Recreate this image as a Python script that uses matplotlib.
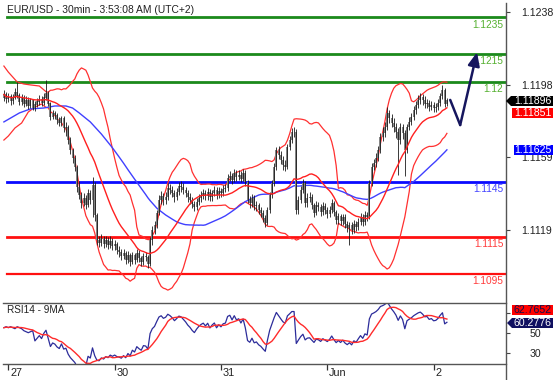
import matplotlib
matplotlib.use('Agg')
import matplotlib.pyplot as plt
from matplotlib.patches import Polygon
from matplotlib.lines import Line2D
import matplotlib.transforms as mtransforms
import numpy as np
import pandas as pd

plt.rcParams['font.family'] = ['Liberation Sans', 'DejaVu Sans']

# ---------------- data ----------------
close = [1.11930, 1.11905, 1.11920, 1.11895, 1.11915, 1.11940, 1.11925, 1.11890, 1.11910, 1.11880, 1.11900, 1.11870, 1.11895, 1.11860, 1.11875, 1.11890, 1.11905, 1.11885, 1.11915, 1.11935, 1.11880,
         1.11807, 1.11829, 1.11818, 1.11790, 1.11774, 1.11800, 1.11747, 1.11752, 1.11681, 1.11627, 1.11583, 1.11534, 1.11425, 1.11381, 1.11337, 1.11365, 1.11327, 1.11392, 1.11354, 1.11436,
         1.11272, 1.11135, 1.11119, 1.11146, 1.11113, 1.11135, 1.11108, 1.11130, 1.11103, 1.11113, 1.11081, 1.11070, 1.11048, 1.11065, 1.11026, 1.11054, 1.11015, 1.11054, 1.11026, 1.11065, 1.11037, 1.11015, 1.11048, 1.11043, 1.11004,
         1.11135, 1.11190, 1.11217, 1.11283, 1.11354, 1.11376, 1.11354, 1.11370, 1.11419, 1.11408, 1.11392, 1.11370, 1.11397, 1.11430, 1.11425, 1.11408, 1.11392, 1.11370, 1.11354, 1.11332, 1.11316, 1.11343, 1.11365, 1.11381, 1.11392, 1.11376, 1.11397, 1.11370, 1.11392, 1.11408, 1.11381, 1.11403, 1.11392, 1.11414, 1.11419,
         1.11474, 1.11485, 1.11463, 1.11501, 1.11480, 1.11490, 1.11469, 1.11501, 1.11452, 1.11354, 1.11337, 1.11365, 1.11321, 1.11327, 1.11299, 1.11283, 1.11255, 1.11228, 1.11299, 1.11381, 1.11447, 1.11534, 1.11627, 1.11599, 1.11572, 1.11545, 1.11534, 1.11643, 1.11681, 1.11725, 1.11725,
         1.11299, 1.11354, 1.11408, 1.11447, 1.11337, 1.11365, 1.11370, 1.11327, 1.11283, 1.11327, 1.11316, 1.11288, 1.11321, 1.11299, 1.11277, 1.11299, 1.11337, 1.11288, 1.11245, 1.11266, 1.11239, 1.11261, 1.11223, 1.11201, 1.11217, 1.11190, 1.11223, 1.11206, 1.11234, 1.11261, 1.11234, 1.11272, 1.11261,
         1.11447, 1.11534, 1.11556, 1.11583, 1.11627, 1.11698, 1.11720, 1.11752, 1.11829, 1.11801, 1.11774, 1.11752, 1.11725, 1.11681, 1.11752, 1.11720, 1.11627, 1.11752, 1.11780, 1.11807, 1.11845, 1.11872, 1.11900, 1.11916, 1.11900, 1.11878, 1.11883, 1.11861, 1.11872, 1.11856, 1.11861, 1.11883, 1.11921, 1.11954, 1.11878, 1.11896]

high = [1.11955, 1.11945, 1.11940, 1.11935, 1.11935, 1.11965, 1.11998, 1.11940, 1.11930, 1.11925, 1.11920, 1.11915, 1.11910, 1.11905, 1.11895, 1.11910, 1.11925, 1.11920, 1.11940, 1.12010, 1.11950,
        1.11890, 1.11845, 1.11840, 1.11830, 1.11805, 1.11815, 1.11810, 1.11780, 1.11765, 1.11700, 1.11640, 1.11600, 1.11545, 1.11460, 1.11395, 1.11390, 1.11380, 1.11415, 1.11410, 1.11480,
        1.11450, 1.11285, 1.11160, 1.11170, 1.11160, 1.11160, 1.11150, 1.11155, 1.11145, 1.11135, 1.11125, 1.11100, 1.11085, 1.11085, 1.11075, 1.11075, 1.11065, 1.11070, 1.11065, 1.11085, 1.11080, 1.11050, 1.11065, 1.11070, 1.11055,
        1.11150, 1.11210, 1.11240, 1.11300, 1.11380, 1.11405, 1.11390, 1.11395, 1.11445, 1.11440, 1.11430, 1.11410, 1.11420, 1.11450, 1.11455, 1.11445, 1.11425, 1.11410, 1.11390, 1.11370, 1.11350, 1.11365, 1.11385, 1.11405, 1.11415, 1.11410, 1.11420, 1.11415, 1.11410, 1.11430, 1.11425, 1.11425, 1.11420, 1.11435, 1.11440,
        1.11495, 1.11510, 1.11500, 1.11525, 1.11520, 1.11515, 1.11510, 1.11525, 1.11515, 1.11465, 1.11375, 1.11385, 1.11380, 1.11350, 1.11340, 1.11315, 1.11300, 1.11270, 1.11315, 1.11395, 1.11465, 1.11555, 1.11645, 1.11650, 1.11620, 1.11595, 1.11570, 1.11660, 1.11705, 1.11745, 1.11750,
        1.11740, 1.11375, 1.11430, 1.11470, 1.11460, 1.11390, 1.11395, 1.11385, 1.11340, 1.11350, 1.11345, 1.11330, 1.11345, 1.11340, 1.11315, 1.11320, 1.11360, 1.11350, 1.11300, 1.11285, 1.11280, 1.11280, 1.11275, 1.11240, 1.11235, 1.11235, 1.11245, 1.11240, 1.11255, 1.11285, 1.11280, 1.11295, 1.11290,
        1.11465, 1.11555, 1.11580, 1.11610, 1.11650, 1.11720, 1.11750, 1.11780, 1.11860, 1.11845, 1.11825, 1.11800, 1.11775, 1.11745, 1.11775, 1.11770, 1.11735, 1.11770, 1.11805, 1.11830, 1.11865, 1.11895, 1.11925, 1.11940, 1.11935, 1.11920, 1.11905, 1.11900, 1.11895, 1.11890, 1.11885, 1.11905, 1.11940, 1.11980, 1.11965, 1.11910]

low = [1.11895, 1.11885, 1.11890, 1.11875, 1.11880, 1.11905, 1.11910, 1.11875, 1.11875, 1.11860, 1.11865, 1.11850, 1.11855, 1.11845, 1.11840, 1.11860, 1.11875, 1.11865, 1.11870, 1.11900, 1.11865,
       1.11790, 1.11795, 1.11795, 1.11770, 1.11755, 1.11760, 1.11725, 1.11705, 1.11660, 1.11605, 1.11555, 1.11510, 1.11400, 1.11360, 1.11310, 1.11320, 1.11305, 1.11315, 1.11330, 1.11260,
       1.11240, 1.11110, 1.11095, 1.11100, 1.11090, 1.11095, 1.11085, 1.11090, 1.11080, 1.11080, 1.11060, 1.11045, 1.11025, 1.11030, 1.11005, 1.11010, 1.10995, 1.11005, 1.11005, 1.11015, 1.11015, 1.10995, 1.11000, 1.11020, 1.10980,
       1.10995, 1.11110, 1.11170, 1.11200, 1.11270, 1.11330, 1.11325, 1.11330, 1.11355, 1.11385, 1.11370, 1.11345, 1.11355, 1.11380, 1.11400, 1.11385, 1.11370, 1.11345, 1.11330, 1.11310, 1.11295, 1.11300, 1.11325, 1.11345, 1.11360, 1.11355, 1.11355, 1.11350, 1.11350, 1.11375, 1.11360, 1.11365, 1.11370, 1.11375, 1.11395,
       1.11405, 1.11455, 1.11440, 1.11450, 1.11460, 1.11465, 1.11450, 1.11455, 1.11430, 1.11335, 1.11310, 1.11315, 1.11300, 1.11295, 1.11275, 1.11260, 1.11235, 1.11205, 1.11215, 1.11285, 1.11365, 1.11430, 1.11520, 1.11575, 1.11550, 1.11520, 1.11510, 1.11525, 1.11625, 1.11665, 1.11695,
       1.11275, 1.11280, 1.11335, 1.11390, 1.11315, 1.11315, 1.11345, 1.11305, 1.11260, 1.11270, 1.11295, 1.11265, 1.11270, 1.11275, 1.11255, 1.11260, 1.11285, 1.11265, 1.11225, 1.11225, 1.11215, 1.11220, 1.11200, 1.11180, 1.11108, 1.11170, 1.11175, 1.11185, 1.11190, 1.11215, 1.11210, 1.11215, 1.11240,
       1.11250, 1.11430, 1.11515, 1.11535, 1.11565, 1.11610, 1.11675, 1.11700, 1.11735, 1.11775, 1.11750, 1.11725, 1.11690, 1.11490, 1.11660, 1.11685, 1.11485, 1.11610, 1.11735, 1.11765, 1.11790, 1.11825, 1.11855, 1.11880, 1.11875, 1.11855, 1.11855, 1.11840, 1.11845, 1.11835, 1.11835, 1.11845, 1.11865, 1.11905, 1.11860, 1.11865]

first_open = 1.11915

# indicator values at the left edge (before full windows exist)
bb_up_head_idx = [0, 2, 4, 6, 9, 12, 16]
bb_up_head = [1.12085, 1.12052, 1.12025, 1.11998, 1.11987, 1.11982, 1.11976]
bb_dn_head_idx = [0, 2, 5, 8, 11, 14, 17]
bb_dn_head = [1.11681, 1.11703, 1.11747, 1.11774, 1.11834, 1.11861, 1.11878]
ma50_head_idx = [0, 7, 12, 18, 23, 28, 31, 34, 39, 44]
ma50_head = [1.11780, 1.11829, 1.11851, 1.11856, 1.11867, 1.11867, 1.11856, 1.11829, 1.11780, 1.11714]
rsi_head = [55, 56, 55, 56, 55, 54, 56, 55, 54, 52, 51, 50, 51, 52]

green_levels = [1.1235, 1.1215, 1.12]
green_texts = ['1.1235', '1.1215', '1.12']
blue_levels = [1.1145]
blue_texts = ['1.1145']
red_levels = [1.1115, 1.1095]
red_texts = ['1.1115', '1.1095']

price_ticks = [1.1238, 1.1198, 1.1159, 1.1119]
price_tick_labels = ['1.1238', '1.1198', '1.1159', '1.1119']
rsi_ticks = [70, 50, 30]
rsi_tick_labels = ['', '50', '30']
day_ticks = [2, 50, 98, 146, 194]
day_labels = ['27', '30', '31', 'Jun', '2']

arrow_x = [201.5, 206.0, 213.6]
arrow_p = [1.11900, 1.11763, 1.12160]

price_tag_texts = ['1.11896', '1.11851', '1.11625']
rsi_tag_texts = ['62.7652', '60.2776']

title = 'EUR/USD - 30min - 3:53:08 AM (UTC+2)'
rsi_title = 'RSI14 - 9MA'

n = len(close)
assert len(high) == n and len(low) == n
idx = np.arange(n)
c = pd.Series(close)
opens = [first_open] + close[:-1]

ma20 = c.rolling(20, min_periods=1).mean()
ma20_full = c.rolling(20).mean()
sd20 = c.rolling(20).std(ddof=0)
bb_up = ma20_full + 2 * sd20
bb_dn = ma20_full - 2 * sd20
ma50 = c.rolling(50).mean()

bb_up_x = bb_up_head_idx + list(range(19, n))
bb_up_y = bb_up_head + list(bb_up.iloc[19:])
bb_dn_x = bb_dn_head_idx + list(range(19, n))
bb_dn_y = bb_dn_head + list(bb_dn.iloc[19:])
ma50_x = ma50_head_idx + list(range(49, n))
ma50_y = ma50_head + list(ma50.iloc[49:])

# Wilder RSI(14)
carr = np.array(close)
d = np.diff(carr)
g = np.clip(d, 0, None)
l = np.clip(-d, 0, None)
rsi_vals = list(rsi_head)
ag = g[:14].mean()
al = l[:14].mean()
rsi_vals.append(100 - 100 / (1 + ag / al))
for k in range(14, len(d)):
    ag = (ag * 13 + g[k]) / 14
    al = (al * 13 + l[k]) / 14
    rsi_vals.append(100 - 100 / (1 + ag / al))
rsi = pd.Series(rsi_vals)
rsi_ma = rsi.rolling(9, min_periods=1).mean()

# ---------------- layout ----------------
W, H = 558, 380
fig = plt.figure(figsize=(W / 100, H / 100), dpi=100)
fig.patch.set_facecolor('white')

def fx(x):
    return x / W

def fy(y):
    return 1 - y / H

left_px, axis_px = 3, 506
px_per_bar, x0_px = 2.215, 3.9
xlim = ((left_px - x0_px) / px_per_bar, (axis_px - x0_px) / px_per_bar)

pip_px = 1.832
p_top = 1.1238 + 12 / pip_px * 0.0001
p_bot = 1.1238 - (296 - 12) / pip_px * 0.0001
ax = fig.add_axes([fx(left_px), fy(296), fx(axis_px - left_px), 296 / H])
for s in ax.spines.values():
    s.set_visible(False)
ax.set_xticks([])
ax.yaxis.tick_right()
ax.set_yticks(price_ticks)
ax.set_yticklabels(price_tick_labels)
ax.tick_params(axis='y', direction='out', length=3, width=0.8, color='#444', pad=8,
               labelsize=7.6, labelcolor='#222')

lx0 = (7 - left_px) / (axis_px - left_px)
for lv, tx in zip(green_levels, green_texts):
    ax.axhline(lv, xmin=lx0, xmax=1, color='#1b8a1b', lw=2.0, zorder=2)
    ax.annotate(tx, xy=(1, lv), xycoords=('axes fraction', 'data'), xytext=(-2, -1.5),
                textcoords='offset points', ha='right', va='top', fontsize=7.3, color='#55b030')
for lv, tx in zip(blue_levels, blue_texts):
    ax.axhline(lv, xmin=lx0, xmax=1, color='#0a0aff', lw=2.0, zorder=2)
    ax.annotate(tx, xy=(1, lv), xycoords=('axes fraction', 'data'), xytext=(-2, -1.5),
                textcoords='offset points', ha='right', va='top', fontsize=7.3, color='#4444ff')
for k, (lv, tx) in enumerate(zip(red_levels, red_texts)):
    ax.axhline(lv, xmin=lx0, xmax=1, color='#ff1010', lw=2.0 if k == 0 else 1.6, zorder=2)
    ax.annotate(tx, xy=(1, lv), xycoords=('axes fraction', 'data'), xytext=(-2, -1.5),
                textcoords='offset points', ha='right', va='top', fontsize=7.3, color='#ff3b3b')

ax.plot(bb_up_x, bb_up_y, color='#ff3030', lw=0.9, zorder=3)
ax.plot(bb_dn_x, bb_dn_y, color='#ff3030', lw=0.9, zorder=3)
ax.plot(idx, ma20, color='#ff2020', lw=1.0, zorder=5)
ax.plot(ma50_x, ma50_y, color='#4040ff', lw=1.0, zorder=3)

body_lo = np.minimum(opens, close)
body_hi = np.maximum(opens, close)
ax.bar(idx, body_hi - body_lo + 0.00004, bottom=body_lo - 0.00002, width=0.9,
       color='#858585', edgecolor='none', zorder=4)
ax.vlines(idx, low, high, color='#1a1a1a', lw=0.6, zorder=4.5)

ax.plot(arrow_x[:2], arrow_p[:2], color='#16165e', lw=1.8, zorder=6, solid_capstyle='round')
ax.annotate('', xy=(arrow_x[2], arrow_p[2]), xytext=(arrow_x[1], arrow_p[1]),
            arrowprops=dict(arrowstyle='-|>,head_length=0.8,head_width=0.35', color='#16165e',
                            lw=1.8, shrinkA=0, shrinkB=0), zorder=6)
ax.set_xlim(*xlim)
ax.set_ylim(p_bot, p_top)

r_top = 50 + (332.7 - 303)
r_bot = 50 - (364 - 332.7)
ax2 = fig.add_axes([fx(left_px), fy(364), fx(axis_px - left_px), (364 - 303) / H])
for k in ['left', 'right']:
    ax2.spines[k].set_visible(False)
for k in ['top', 'bottom']:
    ax2.spines[k].set_color('#555')
    ax2.spines[k].set_linewidth(1.0)
ax2.plot(idx, rsi, color='#2c2c9a', lw=0.9)
ax2.plot(idx, rsi_ma, color='#ff2b2b', lw=1.0)
ax2.yaxis.tick_right()
ax2.set_yticks(rsi_ticks)
ax2.set_yticklabels(rsi_tick_labels)
ax2.tick_params(axis='y', direction='out', length=3, width=0.8, color='#444', pad=14,
                labelsize=7.6, labelcolor='#222')
ax2.set_xticks(day_ticks)
ax2.set_xticklabels(day_labels)
ax2.tick_params(axis='x', direction='out', length=4, width=0.9, color='#333', pad=-1,
                labelsize=7.8, labelcolor='#222')
offset = mtransforms.ScaledTranslation(2 / 100, 0, fig.dpi_scale_trans)
for lab in ax2.get_xticklabels():
    lab.set_horizontalalignment('left')
    lab.set_transform(lab.get_transform() + offset)
ax2.set_xlim(*xlim)
ax2.set_ylim(r_bot, r_top)

fig.add_artist(Line2D([fx(505.5), fx(505.5)], [fy(3), fy(380)], color='#555', lw=1.0))

fig.text(fx(7), fy(10), title, fontsize=7.4, color='#222', va='center', ha='left')
fig.text(fx(7), fy(310), rsi_title, fontsize=7.2, color='#222', va='center', ha='left')

def tag(x_left, y_top, y_bot, txt, bg, fg, arrow=False, x_right=553):
    yc = (y_top + y_bot) / 2
    if arrow:
        pts = [(x_left, yc), (x_left + 5, y_top), (x_right, y_top), (x_right, y_bot), (x_left + 5, y_bot)]
    else:
        pts = [(x_left, y_top), (x_right, y_top), (x_right, y_bot), (x_left, y_bot)]
    fig.add_artist(Polygon([(fx(a), fy(b)) for a, b in pts], closed=True, facecolor=bg,
                           edgecolor='none', transform=fig.transFigure, zorder=10))
    fig.text(fx(x_right - 1), fy(yc + 0.3), txt, fontsize=7.6, color=fg, ha='right', va='center',
             zorder=11)

tag(506, 96, 106, price_tag_texts[0], '#000000', 'white', arrow=True)
tag(512, 108, 117.5, price_tag_texts[1], '#ff0000', 'white')
tag(514, 145, 154.5, price_tag_texts[2], '#0000ff', 'white')
tag(512, 305, 315, rsi_tag_texts[0], '#ff0000', '#10104a')
tag(507, 318, 328, rsi_tag_texts[1], '#101060', 'white', arrow=True)

fig.savefig('out.png', dpi=100, facecolor='white')
